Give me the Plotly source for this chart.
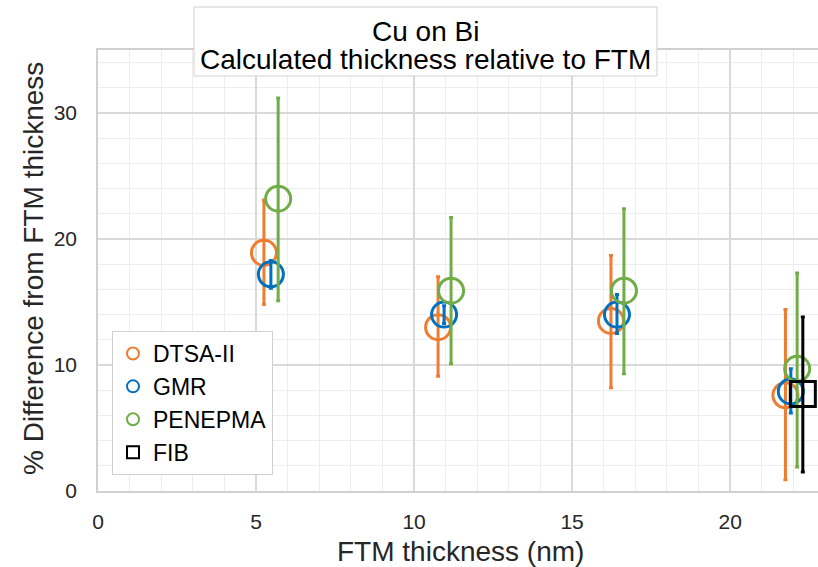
import plotly.graph_objects as go

# Data
dtsa_x = [5.25, 10.76, 16.23, 21.75]
dtsa_y = [18.9, 13.0, 13.5, 7.6]
dtsa_hi = [23.1, 17.0, 18.7, 14.4]
dtsa_lo = [14.8, 9.1, 8.2, 0.9]

gmr_x = [5.47, 10.95, 16.42, 21.92]
gmr_y = [17.2, 14.0, 14.0, 7.9]
gmr_hi = [18.3, 14.7, 15.6, 9.7]
gmr_lo = [16.1, 13.3, 12.5, 6.2]

pen_x = [5.7, 11.17, 16.64, 22.12]
pen_y = [23.2, 15.9, 15.9, 9.7]
pen_hi = [31.2, 21.7, 22.4, 17.3]
pen_lo = [15.1, 10.1, 9.3, 1.9]

fib_x = [22.3]
fib_y = [7.7]
fib_hi = [13.8]
fib_lo = [1.5]

title_lines = ["Cu on Bi", "Calculated thickness relative to FTM"]
x_title = "FTM thickness (nm)"
y_title = "% Difference from FTM thickness"

series = [
    ("DTSA-II", dtsa_x, dtsa_y, dtsa_hi, dtsa_lo, "#ED7D31", "circle-open"),
    ("GMR", gmr_x, gmr_y, gmr_hi, gmr_lo, "#0070C0", "circle-open"),
    ("PENEPMA", pen_x, pen_y, pen_hi, pen_lo, "#70AD47", "circle-open"),
    ("FIB", fib_x, fib_y, fib_hi, fib_lo, "#000000", "square-open"),
]

W, H = 818, 567
ML, MR, MT, MB = 98, 0, 50, 76
PW, PH = W - ML - MR, H - MT - MB

fig = go.Figure()
for name, xs, ys, hi, lo, col, sym in series:
    fig.add_trace(go.Scatter(
        x=xs, y=ys, mode="markers", name=name,
        marker=dict(symbol=sym, size=25, color=col, line=dict(width=3, color=col)),
        error_y=dict(type="data", symmetric=False,
                     array=[h - v for h, v in zip(hi, ys)],
                     arrayminus=[v - l for v, l in zip(ys, lo)],
                     color=col, thickness=3, width=2),
        cliponaxis=False,
    ))

font_family = "Liberation Sans, Arial, sans-serif"
txt = "#262626"

def px_x(p):
    return (p - ML) / PW

def px_y(p):
    return (H - MB - p) / PH

fig.update_layout(
    width=W, height=H,
    margin=dict(l=ML, r=MR, t=MT, b=MB, autoexpand=False),
    paper_bgcolor="white", plot_bgcolor="white",
    font=dict(family=font_family, color=txt),
    showlegend=True,
    legend=dict(
        x=px_x(112), y=px_y(331), xanchor="left", yanchor="top",
        bordercolor="#d0d0d0", borderwidth=1, bgcolor="white",
        font=dict(size=23, color="#000000"),
        itemsizing="constant", itemwidth=30,
        tracegroupgap=0,
    ),
    xaxis=dict(
        range=[0, 22.78], dtick=5, tick0=0,
        showgrid=True, gridcolor="#d9d9d9", gridwidth=1.5,
        minor=dict(dtick=1, showgrid=True, gridcolor="#ededed", gridwidth=1),
        showline=True, linecolor="#d0d0d0", linewidth=1.5, mirror=True,
        zeroline=False, ticks="", automargin=False, ticklabelstandoff=11,
        tickfont=dict(size=21, color=txt),
    ),
    yaxis=dict(
        range=[0, 35], dtick=10, tick0=0,
        showgrid=True, gridcolor="#d9d9d9", gridwidth=1.5,
        minor=dict(dtick=2, showgrid=True, gridcolor="#ededed", gridwidth=1),
        showline=True, linecolor="#d0d0d0", linewidth=1.5, mirror=True,
        zeroline=False, ticks="", automargin=False, ticklabelstandoff=15,
        tickfont=dict(size=21, color=txt),
    ),
    shapes=[dict(
        type="rect", xref="paper", yref="paper",
        x0=px_x(194), x1=px_x(657), y0=px_y(76), y1=px_y(7),
        line=dict(color="#d0d0d0", width=1), fillcolor="white", layer="above",
    )],
    annotations=[
        dict(text=title_lines[0], xref="paper", yref="paper",
             x=px_x(425.5), y=px_y(32), xanchor="center", yanchor="middle",
             showarrow=False, font=dict(size=28, color="#000000")),
        dict(text=title_lines[1], xref="paper", yref="paper",
             x=px_x(425.5), y=px_y(60), xanchor="center", yanchor="middle",
             showarrow=False, font=dict(size=28, color="#000000")),
        dict(text=x_title, xref="paper", yref="paper",
             x=px_x(460), y=px_y(551), xanchor="center", yanchor="middle",
             showarrow=False, font=dict(size=28, color=txt)),
        dict(text=y_title, xref="paper", yref="paper", textangle=-90,
             x=px_x(33), y=px_y(269), xanchor="center", yanchor="middle",
             showarrow=False, font=dict(size=28, color=txt)),
    ],
)

fig.write_html(
    "out.html",
    config={"displayModeBar": False},
    post_script="document.body.style.margin='0';document.body.style.overflow='hidden';",
)
